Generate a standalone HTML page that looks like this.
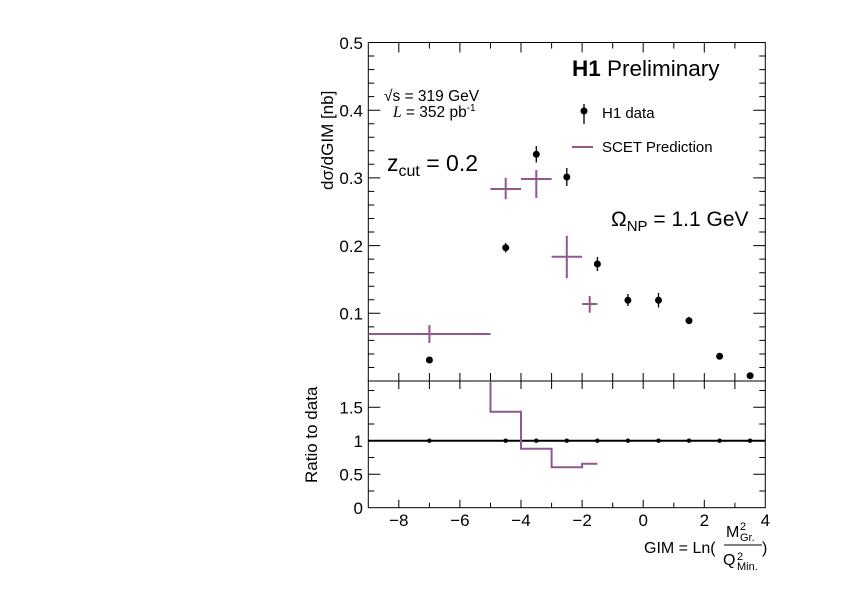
<!DOCTYPE html>
<html><head><meta charset="utf-8"><style>
html,body{margin:0;padding:0;background:#fff}
svg{display:block}
text{font-family:"Liberation Sans",sans-serif;fill:#000}
</style></head><body>
<svg width="842" height="595" viewBox="0 0 842 595" xmlns="http://www.w3.org/2000/svg">
<g stroke="#000" stroke-width="1" fill="none">
<rect x="368.3" y="42.5" width="397" height="338.5"/>
<rect x="368.3" y="381" width="397" height="126.7"/>
<path d="M368.3 313.3h12M368.3 245.6h12M368.3 177.9h12M368.3 110.2h12M765.3 313.3h-12M765.3 245.6h-12M765.3 177.9h-12M765.3 110.2h-12"/>
<path d="M368.3 367.5h6M368.3 354h6M368.3 340.4h6M368.3 326.9h6M368.3 299.8h6M368.3 286.2h6M368.3 272.7h6M368.3 259.1h6M368.3 232h6M368.3 218.5h6M368.3 205h6M368.3 191.4h6M368.3 164.3h6M368.3 150.8h6M368.3 137.3h6M368.3 123.7h6M368.3 96.6h6M368.3 83.1h6M368.3 69.6h6M368.3 56h6
M765.3 367.5h-6M765.3 354h-6M765.3 340.4h-6M765.3 326.9h-6M765.3 299.8h-6M765.3 286.2h-6M765.3 272.7h-6M765.3 259.1h-6M765.3 232h-6M765.3 218.5h-6M765.3 205h-6M765.3 191.4h-6M765.3 164.3h-6M765.3 150.8h-6M765.3 137.3h-6M765.3 123.7h-6M765.3 96.6h-6M765.3 83.1h-6M765.3 69.6h-6M765.3 56h-6"/>
<path d="M398.8 42.5v10M429.4 42.5v6M459.9 42.5v10M490.5 42.5v6M521 42.5v10M551.6 42.5v6M582.1 42.5v10M612.7 42.5v6M643.2 42.5v10M673.8 42.5v6M704.3 42.5v10M734.9 42.5v6
M398.8 373v16M429.4 373v16M459.9 373v16M490.5 373v16M521 373v16M551.6 373v16M582.1 373v16M612.7 373v16M643.2 373v16M673.8 373v16M704.3 373v16M734.9 373v16"/>
<path d="M398.8 507.7v-8M429.4 507.7v-5M459.9 507.7v-8M490.5 507.7v-5M521 507.7v-8M551.6 507.7v-5M582.1 507.7v-8M612.7 507.7v-5M643.2 507.7v-8M673.8 507.7v-5M704.3 507.7v-8M734.9 507.7v-5"/>
<path d="M368.3 474.2h12M368.3 440.7h12M368.3 407.2h12M368.3 491h6M368.3 457.5h6M368.3 424h6M368.3 390.5h6
M765.3 474.2h-12M765.3 440.7h-12M765.3 407.2h-12M765.3 491h-6M765.3 457.5h-6M765.3 424h-6M765.3 390.5h-6"/>
</g>
<path d="M368.3 440.7H765.3" stroke="#000" stroke-width="2"/>
<g fill="#000">
<circle cx="429.4" cy="440.7" r="2.2"/><circle cx="505.7" cy="440.7" r="2.2"/><circle cx="536.3" cy="440.7" r="2.2"/><circle cx="566.8" cy="440.7" r="2.2"/><circle cx="597.4" cy="440.7" r="2.2"/><circle cx="627.9" cy="440.7" r="2.2"/><circle cx="658.5" cy="440.7" r="2.2"/><circle cx="689" cy="440.7" r="2.2"/><circle cx="719.6" cy="440.7" r="2.2"/><circle cx="750.1" cy="440.7" r="2.2"/>
</g>
<path d="M490.5 381V411.7H521V448.7H551.6V467.3H582.1V463.7H597.4" stroke="#8e5a8e" stroke-width="2" fill="none"/>
<g stroke="#8e5a8e" stroke-width="2" fill="none">
<path d="M368.3 334H490.5M429.4 325V343"/>
<path d="M490.5 189H521M505.7 177.7V199.3"/>
<path d="M521 179H551.6M536.3 170V198"/>
<path d="M551.6 256.7H582.1M566.8 235.7V278.3"/>
<path d="M582.1 304H597.4M589.7 296V312.7"/>
<path d="M572 147H593"/>
</g>
<g stroke="#000" stroke-width="1.3">
<path d="M505.7 243V252.5M536.3 146V162.5M566.8 168V186M597.4 257V271M627.9 294V306M658.5 293V307.5M689 317V324M584 104V124"/>
</g>
<g fill="#000">
<circle cx="429.4" cy="360" r="3.5"/><circle cx="505.7" cy="247.7" r="3.5"/><circle cx="536.3" cy="154.3" r="3.5"/><circle cx="566.8" cy="177" r="3.5"/><circle cx="597.4" cy="264" r="3.5"/><circle cx="627.9" cy="300.3" r="3.5"/><circle cx="658.5" cy="300.3" r="3.5"/><circle cx="689" cy="320.7" r="3.5"/><circle cx="719.6" cy="356.3" r="3.5"/><circle cx="750.1" cy="375.7" r="3.5"/>
<circle cx="584" cy="111" r="3.5"/>
</g>
<g font-size="17" text-anchor="end">
<text x="363" y="49">0.5</text>
<text x="363" y="116.5">0.4</text>
<text x="363" y="184">0.3</text>
<text x="363" y="252">0.2</text>
<text x="363" y="319.5">0.1</text>
<text x="363" y="413.5">1.5</text>
<text x="363" y="447">1</text>
<text x="363" y="480.5">0.5</text>
<text x="363" y="514">0</text>
</g>
<g font-size="17" text-anchor="middle">
<text x="398.8" y="526">−8</text>
<text x="459.9" y="526">−6</text>
<text x="521" y="526">−4</text>
<text x="582.1" y="526">−2</text>
<text x="643.2" y="526">0</text>
<text x="704.3" y="526">2</text>
<text x="765.3" y="526">4</text>
</g>
<text transform="translate(333,190) rotate(-90)" font-size="17">dσ/dGIM [nb]</text>
<text transform="translate(317,483) rotate(-90)" font-size="17">Ratio to data</text>
<text x="644" y="553" font-size="16">GIM = Ln(</text>
<text x="726" y="537" font-size="16">M</text>
<text x="740" y="530" font-size="11">2</text>
<text x="740" y="541" font-size="11">Gr.</text>
<path d="M724 545H762" stroke="#000" stroke-width="1"/>
<text x="723" y="565" font-size="16">Q</text>
<text x="737" y="560" font-size="11">2</text>
<text x="737" y="570" font-size="11">Min.</text>
<text x="762" y="553" font-size="16">)</text>
<text x="572" y="76" font-size="22.5"><tspan font-weight="bold">H1</tspan> Preliminary</text>
<text x="384" y="101" font-size="15.5">√s = 319 GeV</text>
<text x="393" y="117" font-size="15.5"><tspan font-family="Liberation Serif" font-style="italic">L</tspan> = 352 pb<tspan font-size="10" dy="-6">-1</tspan></text>
<text x="387" y="171" font-size="23">z<tspan font-size="16" dy="5">cut</tspan><tspan dy="-5"> = 0.2</tspan></text>
<text x="611" y="226" font-size="21">Ω<tspan font-size="15" dy="5">NP</tspan><tspan dy="-5"> = 1.1 GeV</tspan></text>
<text x="602" y="118" font-size="15">H1 data</text>
<text x="602" y="152" font-size="15">SCET Prediction</text>
</svg>
</body></html>
